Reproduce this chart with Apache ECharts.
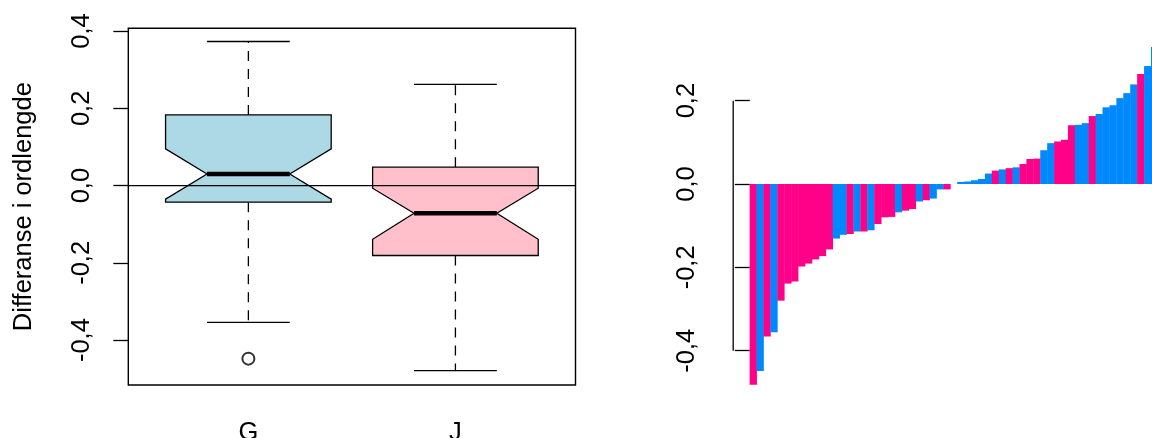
<!DOCTYPE html>
<html>
<head>
<meta charset="utf-8">
<script src="https://cdn.jsdelivr.net/npm/echarts@6/dist/echarts.min.js"></script>
<style>
  html, body { margin: 0; padding: 0; background: #fff; overflow: hidden; }
  #chart { width: 1152px; height: 438px; }
</style>
</head>
<body>
<div id="chart"></div>
<script>
// ---------- data: notched boxplot (left) ----------
const categories   = ['G', 'J'];
const whiskerLow   = [-0.354, -0.479];
const q1           = [-0.043, -0.181];
const notchLow     = [-0.035, -0.139];
const median       = [0.030, -0.0714];
const notchHigh    = [0.095, -0.0067];
const q3           = [0.183, 0.0476];
const whiskerHigh  = [0.373, 0.262];
const outlierGroup = ['G'];
const outlierValue = [-0.448];

// ---------- data: sorted differences (right) ----------
const sortedDiff = [
  -0.482, -0.449, -0.366, -0.356, -0.280, -0.239, -0.234, -0.198, -0.191, -0.181,
  -0.173, -0.157, -0.131, -0.122, -0.120, -0.114, -0.114, -0.111, -0.096, -0.080,
  -0.079, -0.068, -0.064, -0.060, -0.042, -0.039, -0.035, -0.013, -0.013, 0.000,
   0.005,  0.006,  0.009,  0.012,  0.025,  0.032,  0.035,  0.038,  0.040,  0.048,
   0.060,  0.061,  0.081,  0.098,  0.102,  0.106,  0.141,  0.142,  0.146,  0.163,
   0.168,  0.184,  0.189,  0.206,  0.218,  0.239,  0.264,  0.283,  0.329,  0.373
];
const diffGroup = [
  'J','G','J','G','J','J','J','J','J','J',
  'J','J','G','G','J','G','J','G','J','J',
  'J','G','J','J','G','J','G','G','J','J',
  'G','G','G','G','G','J','G','J','G','J',
  'J','J','G','G','J','J','J','G','G','J',
  'G','G','G','G','G','G','J','G','G','G'
];

// ---------- tick labels ----------
const yTicksLeft  = [-0.4, -0.2, 0.0, 0.2, 0.4];
const yTicksRight = [-0.4, -0.2, 0.0, 0.2];
const xTicksLeft  = [1, 2];

// ---------- styles ----------
const boxFill  = { G: '#ADD8E6', J: '#FFC0CB' };
const barColor = { G: '#0088FF', J: '#FF0088' };
const FONT = '"Liberation Sans", Arial, Helvetica, sans-serif';
const fmt = v => (Math.abs(v) < 1e-9 ? 0 : v).toFixed(1).replace('.', ',');

// R-style axis ranges (data range extended by 4%)
const yMin = -0.5162, yMax = 0.4072;
const barXMin = -2.4, barXMax = 58.12;

const boxData = categories.map((c, i) =>
  [i + 1, whiskerLow[i], q1[i], notchLow[i], median[i], notchHigh[i], q3[i], whiskerHigh[i]]);

const outlierData = outlierGroup.map((g, i) => [categories.indexOf(g) + 1, outlierValue[i]]);

const barData = sortedDiff.map((v, i) => ({
  value: [i + 0.5, v],
  itemStyle: { color: barColor[diffGroup[i]] }
}));

const chart = echarts.init(document.getElementById('chart'), null, { renderer: 'canvas' });

const tickStyle = { color: '#000', width: 1.3 };
const labelStyle = { color: '#000', fontSize: 25.5, fontFamily: FONT };

chart.setOption({
  animation: false,
  textStyle: { fontFamily: FONT },
  grid: [
    { left: 128.3, right: 576.5, top: 28.3, bottom: 53, show: true,
      containLabel: false, outerBoundsMode: 'none',
      borderColor: '#000', borderWidth: 1.4, backgroundColor: 'transparent' },
    { left: 733.2, right: 0, top: 14.3, bottom: 38.9,
      containLabel: false, outerBoundsMode: 'none' }
  ],
  xAxis: [
    { type: 'value', gridIndex: 0, min: 0.42, max: 2.58,
      splitLine: { show: false }, axisLine: { show: false },
      axisTick: { show: true, customValues: xTicksLeft, length: 15, lineStyle: tickStyle },
      axisLabel: Object.assign({ customValues: xTicksLeft, margin: 35,
        formatter: v => categories[Math.round(v) - 1] }, labelStyle) },
    { type: 'value', gridIndex: 1, min: barXMin, max: barXMax, show: false,
      splitLine: { show: false } }
  ],
  yAxis: [
    { type: 'value', gridIndex: 0, min: yMin, max: yMax,
      splitLine: { show: false }, axisLine: { show: false },
      axisTick: { show: true, customValues: yTicksLeft, length: 15, lineStyle: tickStyle },
      axisLabel: Object.assign({ customValues: yTicksLeft, rotate: 90, margin: 33, formatter: fmt }, labelStyle),
      name: 'Differanse i ordlengde', nameLocation: 'middle', nameRotate: 90, nameGap: 91,
      nameTextStyle: labelStyle },
    { type: 'value', gridIndex: 1, min: yMin, max: yMax,
      splitLine: { show: false }, axisLine: { show: false },
      axisTick: { show: true, customValues: yTicksRight, length: 15, lineStyle: tickStyle },
      axisLabel: Object.assign({ customValues: yTicksRight, rotate: 90, margin: 33, formatter: fmt }, labelStyle) }
  ],
  series: [
    {
      type: 'custom', xAxisIndex: 0, yAxisIndex: 0, data: boxData, z: 2,
      renderItem: function (params, api) {
        const x = api.value(0);
        const wl = api.value(1), lo = api.value(2), nl = api.value(3), md = api.value(4),
              nh = api.value(5), hi = api.value(6), wh = api.value(7);
        const bw = 0.4, nw = 0.2, cw = 0.2;
        const P = (a, b) => api.coord([a, b]);
        const fill = boxFill[categories[Math.round(x) - 1]];
        const dash = { stroke: '#000', lineWidth: 1.3, lineDash: [10, 8] };
        const solid = { stroke: '#000', lineWidth: 1.3 };
        const line = (p1, p2, st) => ({ type: 'line',
          shape: { x1: p1[0], y1: p1[1], x2: p2[0], y2: p2[1] }, style: st });
        return {
          type: 'group',
          children: [
            line(P(x, hi), P(x, wh), dash),
            line(P(x, lo), P(x, wl), dash),
            line(P(x - cw, wh), P(x + cw, wh), solid),
            line(P(x - cw, wl), P(x + cw, wl), solid),
            { type: 'polygon',
              shape: { points: [
                P(x - bw, hi), P(x + bw, hi), P(x + bw, nh), P(x + nw, md), P(x + bw, nl),
                P(x + bw, lo), P(x - bw, lo), P(x - bw, nl), P(x - nw, md), P(x - bw, nh)
              ] },
              style: { fill: fill, stroke: '#000', lineWidth: 1.3, lineJoin: 'miter' } },
            line(P(x - nw, md), P(x + nw, md), { stroke: '#000', lineWidth: 4.4 })
          ]
        };
      }
    },
    {
      type: 'scatter', xAxisIndex: 0, yAxisIndex: 0, data: outlierData,
      symbol: 'emptyCircle', symbolSize: 12,
      itemStyle: { color: '#000', borderColor: '#000', borderWidth: 1.1 }, z: 3
    },
    {
      type: 'line', xAxisIndex: 0, yAxisIndex: 0, data: [[0.42, 0], [2.58, 0]],
      symbol: 'none', lineStyle: { color: '#000', width: 1.3 }, z: 4, silent: true
    },
    {
      type: 'bar', xAxisIndex: 1, yAxisIndex: 1, data: barData,
      barWidth: 7.3, barGap: '0%', barCategoryGap: '0%', clip: true, silent: true,
      itemStyle: { borderWidth: 0 }
    },
    {
      type: 'line', xAxisIndex: 1, yAxisIndex: 1,
      data: [[barXMin, yTicksRight[0]], [barXMin, yTicksRight[yTicksRight.length - 1]]],
      symbol: 'none', clip: false, lineStyle: { color: '#000', width: 1.3 }, silent: true
    }
  ]
});
</script>
</body>
</html>
